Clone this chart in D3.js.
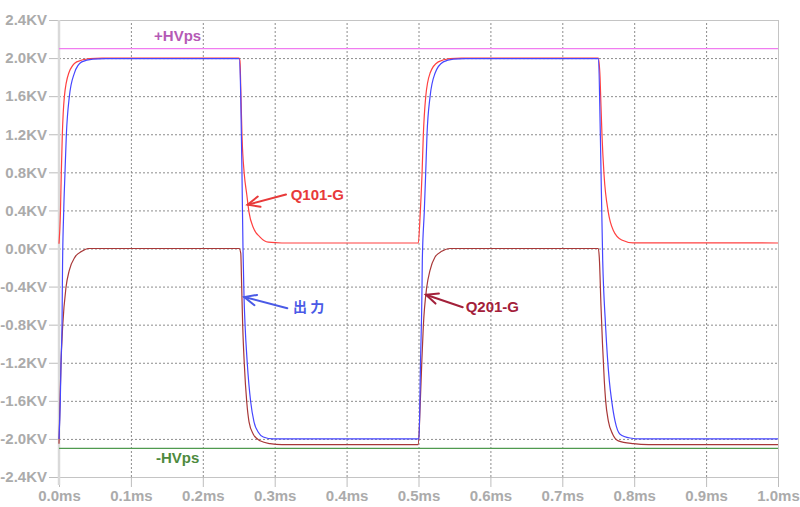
<!DOCTYPE html>
<html>
<head>
<meta charset="utf-8">
<script src="https://cdn.jsdelivr.net/npm/d3@7"></script>
<style>
  html, body { margin: 0; padding: 0; background: #ffffff; }
  svg { display: block; }
</style>
</head>
<body>
<svg id="chart" width="800" height="507"></svg>
<script>
// ---------- data (time in ms, value in KV) ----------
const xTicks = [0, 0.1, 0.2, 0.3, 0.4, 0.5, 0.6, 0.7, 0.8, 0.9, 1.0];
const xTickLabels = ["0.0ms","0.1ms","0.2ms","0.3ms","0.4ms","0.5ms","0.6ms","0.7ms","0.8ms","0.9ms","1.0ms"];
const yTicks = [2.4, 2.0, 1.6, 1.2, 0.8, 0.4, 0.0, -0.4, -0.8, -1.2, -1.6, -2.0, -2.4];
const yTickLabels = ["2.4KV","2.0KV","1.6KV","1.2KV","0.8KV","0.4KV","0.0KV","-0.4KV","-0.8KV","-1.2KV","-1.6KV","-2.0KV","-2.4KV"];

const hvPlus = 2.1;
const hvMinus = -2.1;

const q101G = [
  [0, 0.05], [0.002, 0.38], [0.0032, 0.79], [0.0046, 1.19], [0.0074, 1.59], [0.0135, 1.84],
  [0.0246, 1.96], [0.043, 1.995], [0.06, 2.0], [0.2505, 2.0], [0.2517, 1.97], [0.2531, 1.59],
  [0.2545, 1.19], [0.2577, 0.78], [0.2611, 0.57], [0.2643, 0.38], [0.2702, 0.22], [0.2796, 0.12],
  [0.2911, 0.066], [0.31, 0.058], [0.4997, 0.058], [0.5025, 0.38], [0.5049, 0.78], [0.5067, 1.19],
  [0.51, 1.59], [0.516, 1.84], [0.5275, 1.96], [0.5438, 1.995], [0.56, 2.0], [0.7501, 2.0],
  [0.7525, 1.8], [0.7534, 1.59], [0.7552, 1.19], [0.758, 0.78], [0.764, 0.38], [0.771, 0.19],
  [0.7826, 0.09], [0.7988, 0.06], [1.0, 0.058]
];

const output = [
  [0, -2.0], [0.0018, -1.6], [0.0028, -1.2], [0.0042, -0.8], [0.0049, -0.2], [0.0065, 0.38],
  [0.0083, 0.79], [0.0102, 1.19], [0.0143, 1.59], [0.0213, 1.84], [0.0316, 1.96], [0.047, 1.99],
  [0.065, 1.995], [0.2505, 1.995], [0.2528, 1.59], [0.2545, 0.78], [0.2559, 0.0], [0.2573, -0.5],
  [0.2587, -0.79], [0.2619, -1.21], [0.2666, -1.61], [0.2712, -1.82], [0.2772, -1.93], [0.2841, -1.98],
  [0.2981, -2.0], [0.5007, -2.0], [0.5028, -1.2], [0.5049, -0.4], [0.5053, -0.13], [0.508, 0.38],
  [0.51, 0.79], [0.5118, 1.19], [0.516, 1.59], [0.523, 1.84], [0.5345, 1.96], [0.5484, 1.99],
  [0.565, 1.995], [0.7503, 1.995], [0.7529, 1.2], [0.7562, -0.13], [0.7601, -0.8], [0.7654, -1.39],
  [0.7687, -1.6], [0.7733, -1.81], [0.7803, -1.95], [0.7942, -1.99], [0.8081, -2.0], [1.0, -2.0]
];

const q201G = [
  [0, -2.05], [0.0014, -1.61], [0.0028, -1.21], [0.0051, -0.82], [0.0097, -0.41], [0.0143, -0.23],
  [0.0222, -0.09], [0.0316, -0.03], [0.0408, 0.0], [0.2505, 0.0], [0.2528, -0.05], [0.2541, -0.41],
  [0.2555, -0.81], [0.2577, -1.21], [0.2611, -1.61], [0.2643, -1.82], [0.2702, -1.95], [0.2796, -2.02],
  [0.2935, -2.05], [0.31, -2.06], [0.4997, -2.06], [0.5025, -1.61], [0.5045, -1.21], [0.5067, -0.82],
  [0.5114, -0.41], [0.516, -0.23], [0.523, -0.09], [0.5323, -0.03], [0.5438, 0.0], [0.7501, 0.0],
  [0.7515, -0.1], [0.7538, -0.6], [0.7559, -1.0], [0.7584, -1.39], [0.7603, -1.6], [0.764, -1.81],
  [0.7701, -1.95], [0.7779, -2.02], [0.7988, -2.05], [0.82, -2.06], [1.0, -2.06]
];

// annotation anchors in data units: [tip t, tip v], [tail t, tail v], label
const annotationNames = ["Q101-G", "出 力", "Q201-G"];
const annotationTips = [[0.2624, 0.46], [0.2577, -0.51], [0.5104, -0.486]];
const annotationTails = [[0.3157, 0.567], [0.3175, -0.627], [0.5615, -0.617]];
const annotationLabelAt = [[0.3222, 0.567], [0.3254, -0.61], [0.5656, -0.61]];

// ---------- drawing ----------
const svg = d3.select("#chart");
const X0 = 59, X1 = 778, Y0 = 20, Y1 = 477;
const x = d3.scaleLinear().domain([0, 1]).range([X0, X1]);
const y = d3.scaleLinear().domain([-2.4, 2.4]).range([Y1, Y0]);

const labelFont = "'Liberation Sans', Arial, sans-serif";
const tickColor = "#ababab";

// grid lines (dotted) at inner ticks
const gGrid = svg.append("g");
gGrid.append("g")
  .attr("transform", `translate(${X0},0)`)
  .call(d3.axisLeft(y).tickValues(yTicks.filter(v => Math.abs(v) < 2.39)).tickSize(-(X1 - X0)).tickFormat(""))
  .call(g => g.select(".domain").remove())
  .call(g => g.selectAll("line").attr("stroke", "#8c8c8c").attr("stroke-dasharray", "2,2").attr("stroke-width", 1));
gGrid.append("g")
  .attr("transform", `translate(0,${Y1})`)
  .call(d3.axisBottom(x).tickValues(xTicks.filter(v => v > 0.01 && v < 0.99)).tickSize(-(Y1 - Y0)).tickFormat(""))
  .call(g => g.select(".domain").remove())
  .call(g => g.selectAll("line").attr("stroke", "#8c8c8c").attr("stroke-dasharray", "2,2").attr("stroke-width", 1));

// frame: top and right, bottom
svg.append("line").attr("x1", X0).attr("x2", X1).attr("y1", Y0 + 0.5).attr("y2", Y0 + 0.5).attr("stroke", "#c4c4c4");
svg.append("line").attr("x1", X1 + 0.5).attr("x2", X1 + 0.5).attr("y1", Y0).attr("y2", Y1).attr("stroke", "#c4c4c4");

// y axis
const yAxis = svg.append("g")
  .attr("transform", `translate(${X0},0)`)
  .call(d3.axisLeft(y).tickValues(yTicks).tickSize(10).tickPadding(2)
    .tickFormat((d, i) => yTickLabels[i]));
yAxis.select(".domain").remove();
yAxis.selectAll("line").attr("stroke", "#bdbdbd");
yAxis.selectAll("text").attr("fill", tickColor).attr("font-family", labelFont)
  .attr("font-weight", "bold").attr("font-size", "15px");

// x axis
const xAxis = svg.append("g")
  .attr("transform", `translate(0,${Y1})`)
  .call(d3.axisBottom(x).tickValues(xTicks).tickSize(10).tickPadding(3)
    .tickFormat((d, i) => xTickLabels[i]));
xAxis.select(".domain").attr("stroke", "#c4c4c4").attr("d", `M${X0},0.5H${X1}`);
xAxis.selectAll("line").attr("stroke", "#bdbdbd");
xAxis.selectAll("text").attr("fill", tickColor).attr("font-family", labelFont)
  .attr("font-weight", "bold").attr("font-size", "15px");

// left axis thick light line
svg.append("line").attr("x1", X0).attr("x2", X0).attr("y1", Y0).attr("y2", Y1 + 8)
  .attr("stroke", "#d9d9d9").attr("stroke-width", 2.5);

// HVps lines
svg.append("line").attr("x1", x(0)).attr("x2", x(1)).attr("y1", y(hvPlus)).attr("y2", y(hvPlus))
  .attr("stroke", "#f07cf0").attr("stroke-width", 1.3);
svg.append("line").attr("x1", x(0)).attr("x2", x(1)).attr("y1", y(hvMinus)).attr("y2", y(hvMinus))
  .attr("stroke", "#4f9a4f").attr("stroke-width", 1.3);
svg.append("text").attr("x", x(0.165)).attr("y", y(hvPlus) - 8).attr("text-anchor", "middle")
  .attr("fill", "#b55ab5").attr("font-family", labelFont).attr("font-weight", "bold").attr("font-size", "15px")
  .text("+HVps");
svg.append("text").attr("x", x(0.165)).attr("y", y(hvMinus) + 15).attr("text-anchor", "middle")
  .attr("fill", "#4e8a3e").attr("font-family", labelFont).attr("font-weight", "bold").attr("font-size", "15px")
  .text("-HVps");

// series
const line = d3.line().x(d => x(d[0])).y(d => y(d[1])).curve(d3.curveMonotoneX);
const seriesData = [q101G, q201G, output];
const seriesColors = ["#ff4040", "#a83838", "#4646ff"];
seriesData.forEach((s, i) => {
  svg.append("path").datum(s).attr("d", line)
    .attr("fill", "none").attr("stroke", seriesColors[i]).attr("stroke-width", 1.2);
});

// annotations
const annColors = ["#e83a3a", "#4a5ae6", "#a3203a"];
annotationNames.forEach((name, i) => {
  const tx = x(annotationTips[i][0]), ty = y(annotationTips[i][1]);
  const sx = x(annotationTails[i][0]), sy = y(annotationTails[i][1]);
  const ang = Math.atan2(sy - ty, sx - tx);
  const L = 13, spread = 0.42;
  const g = svg.append("g").attr("stroke", annColors[i]).attr("stroke-width", 2).attr("fill", "none")
    .attr("stroke-linecap", "round");
  g.append("line").attr("x1", sx).attr("y1", sy).attr("x2", tx).attr("y2", ty);
  g.append("path").attr("d",
    `M${tx + L * Math.cos(ang + spread)},${ty + L * Math.sin(ang + spread)}L${tx},${ty}L${tx + L * Math.cos(ang - spread)},${ty + L * Math.sin(ang - spread)}`);
  svg.append("text").attr("x", x(annotationLabelAt[i][0])).attr("y", y(annotationLabelAt[i][1]))
    .attr("dy", "0.36em")
    .attr("fill", annColors[i])
    .attr("font-family", i === 1 ? "'Noto Sans CJK JP', sans-serif" : labelFont)
    .attr("font-weight", "bold").attr("font-size", i === 1 ? "14px" : "15px")
    .text(name);
});
</script>
</body>
</html>
